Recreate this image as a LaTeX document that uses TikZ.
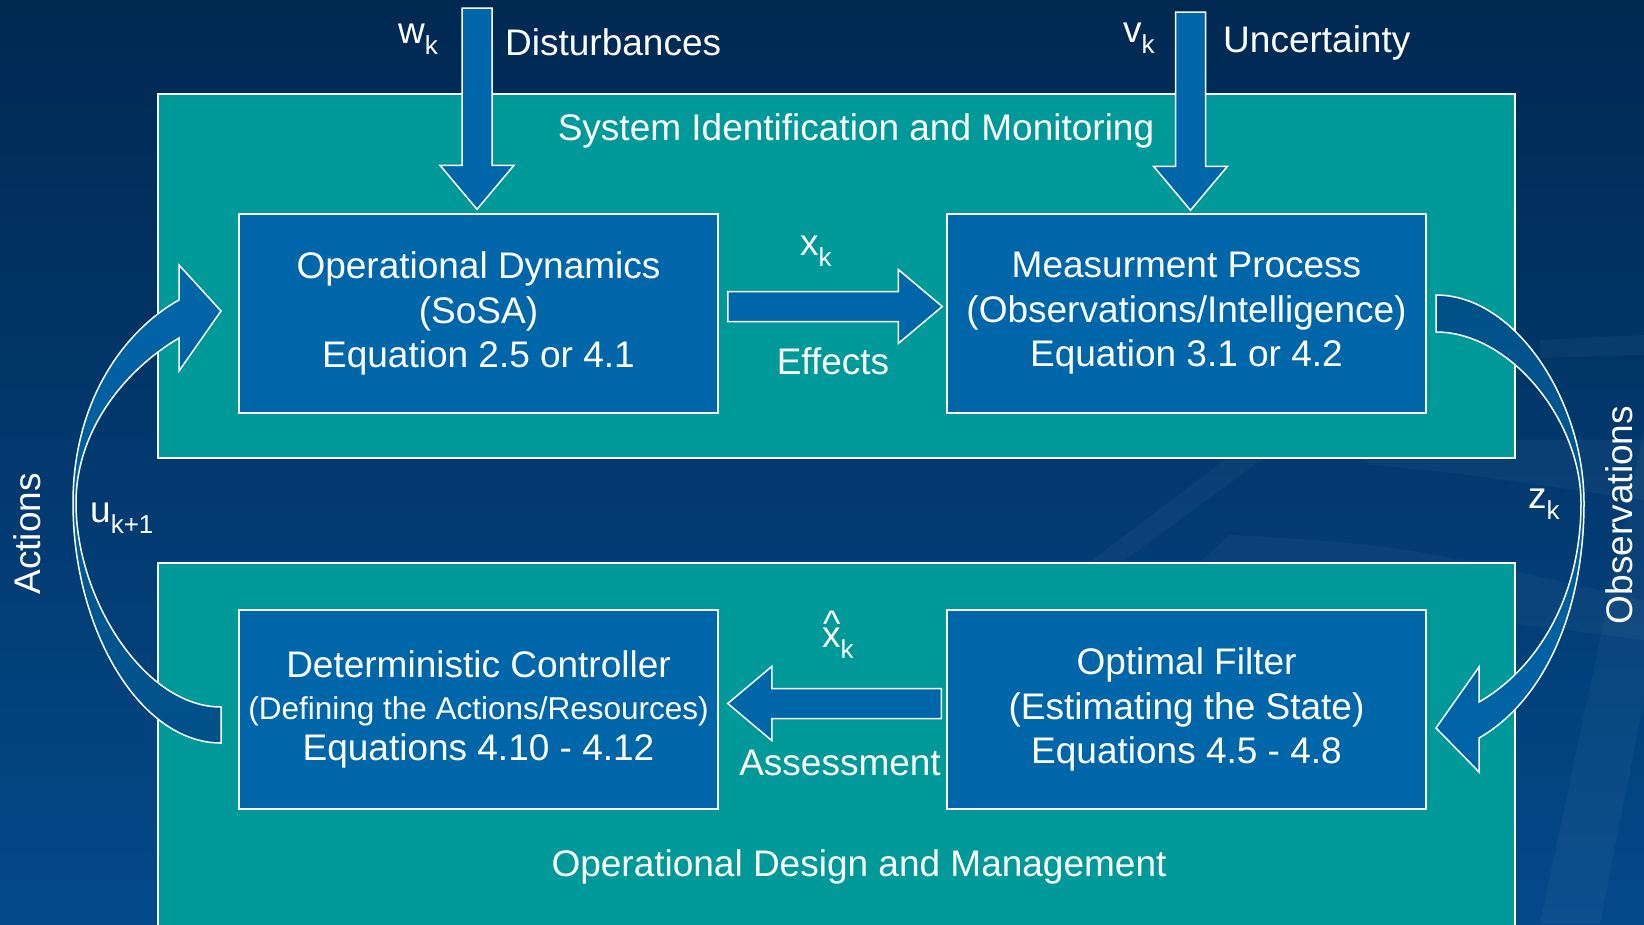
\documentclass[tikz,border=0pt]{standalone}
\usepackage{fontspec}
\setmainfont{Liberation Sans}
\usetikzlibrary{calc,positioning}

\definecolor{bgtop}{RGB}{0,41,82}
\definecolor{bgbot}{RGB}{3,73,138}
\definecolor{panelteal}{RGB}{0,153,153}
\definecolor{boxblue}{RGB}{0,102,170}
\definecolor{tailblue}{RGB}{0,80,135}

\newcommand{\sub}[1]{\raisebox{-11pt}{\fontsize{26}{26}\selectfont #1}}
\newcommand{\xhat}{\rlap{\hspace{1pt}\raisebox{11pt}{\textasciicircum}}x}

\begin{document}
\begin{tikzpicture}[x=1pt,y=-1pt,
    txt/.style={text=white,font=\fontsize{37}{44.5}\selectfont,inner sep=0pt},
    zone/.style={draw=white,line width=1.5pt,fill=panelteal,minimum width=1357pt},
    stage/.style={txt,draw=white,line width=1.5pt,fill=boxblue,align=center,minimum width=479pt,minimum height=199pt},
    fatarrow/.style={draw=white,line width=1.5pt,fill=boxblue,line join=miter,
      to path={let \p1=($(\tikztotarget)!44pt!(\tikztostart)$) in
        ($(\tikztostart)!15pt!90:(\tikztotarget)$) -- ($(\p1)!15pt!90:(\tikztotarget)$)
        -- ($(\p1)!37pt!90:(\tikztotarget)$) -- (\tikztotarget)
        -- ($(\p1)!37pt!-90:(\tikztotarget)$) -- ($(\p1)!15pt!-90:(\tikztotarget)$)
        -- ($(\tikztostart)!15pt!-90:(\tikztotarget)$) -- cycle}},
    bendarrow/.style={draw=white,line width=1.5pt,line join=miter},
    swoosh/.style={fill=white,fill opacity=0.035}]

  % background
  \fill[top color=bgtop,bottom color=bgbot] (0,0) rectangle (1644,924);
  \useasboundingbox (0,0) rectangle (1644,924);
  % faint swooshes
  \fill[swoosh] (1040,600) -- (1290,410) -- (1330,410) -- (1070,600) -- cycle;
  \fill[swoosh] (1180,580) -- (1230,535) .. controls (1400,545) .. (1644,600) -- (1644,640) -- cycle;
  \fill[swoosh] (1340,440) -- (1370,465) .. controls (1450,472) .. (1644,500) -- (1644,440) -- cycle;
  \fill[swoosh] (1540,340) -- (1644,335) -- (1644,355) -- (1540,358) -- cycle;
  \fill[swoosh] (1644,430) -- (1540,924) -- (1600,924) -- (1644,700) -- cycle;

  % the two areas
  \node[zone,minimum height=364pt] (ident) at (836.5,276) {};
  \node[zone,minimum height=380pt] (design) at (836.5,753) {};
  \node[txt,anchor=base] (identtitle) at (856,140) {System Identification and Monitoring};
  \node[txt,anchor=base] (designtitle) at (859,876) {Operational Design and Management};

  % blocks
  \node[stage] (od) at (478.5,313.5) {Operational Dynamics\\(SoSA)\\Equation 2.5 or 4.1};
  \node[stage] (mp) at (1186.5,313.5) {Measurment Process\\(Observations/Intelligence)\\Equation 3.1 or 4.2};
  \node[stage] (dc) at (478.5,709.5) {Deterministic Controller\\[-2.5pt]{\fontsize{31.5}{38}\selectfont(Defining the Actions/Resources)}\\[-4pt]Equations 4.10 - 4.12};
  \node[stage] (of) at (1186.5,709.5) {Optimal Filter\\(Estimating the State)\\Equations 4.5 - 4.8};

  % straight arrows
  \coordinate (wtop) at (477,8);
  \coordinate (wend) at ($(od.north)+(-1.5,-4)$);
  \coordinate (vtop) at (1190.5,12);
  \coordinate (vend) at ($(mp.north)+(4,-3)$);
  \coordinate (xs) at ($(od.east)+(9,-7)$);
  \coordinate (xe) at ($(mp.west)+(-4,-7)$);
  \coordinate (hs) at ($(of.west)+(-5,-6)$);
  \coordinate (he) at ($(dc.east)+(9,-6)$);
  \draw[fatarrow] (wtop) to (wend);
  \draw[fatarrow] (vtop) to (vend);
  \draw[fatarrow] (xs) to (xe);
  \draw[fatarrow] (hs) to (he);

  % curved arrows
  \draw[bendarrow,top color=boxblue,bottom color=tailblue]
    (221,743) .. controls (140,743) and (73,630) .. (73,503)
    .. controls (73,400) and (125,330) .. (179,300)
    -- (179,265) -- (221,311) -- (179,371) -- (179,338)
    .. controls (125,370) and (76,430) .. (76,503)
    .. controls (76,600) and (145,707) .. (221,707) -- cycle;
  \draw[bendarrow,top color=tailblue,bottom color=boxblue]
    (1436,295) .. controls (1515,295) and (1584,400) .. (1584,503)
    .. controls (1584,610) and (1545,700) .. (1479,738)
    -- (1479,772) -- (1436,728) -- (1479,667) -- (1479,702)
    .. controls (1535,670) and (1581,600) .. (1581,503)
    .. controls (1581,420) and (1510,332) .. (1436,332) -- cycle;

  % labels
  \node[txt,anchor=base west] (wlab) at (398,43) {w\sub{k}};
  \node[txt,anchor=base west] (dist) at (505,55) {Disturbances};
  \node[txt,anchor=base west] (vlab) at (1123,42) {v\sub{k}};
  \node[txt,anchor=base west] (unc) at (1223,52) {Uncertainty};
  \node[txt,anchor=base west] (xlab) at (800,255) {x\sub{k}};
  \node[txt,anchor=base] (eff) at (833,374) {Effects};
  \node[txt,anchor=base west] (xhlab) at (822,647) {\xhat\sub{k}};
  \node[txt,anchor=base] (assess) at (840,775) {Assessment};
  \node[txt,anchor=base west] (ulab) at (90,522) {u\sub{k+1}};
  \node[txt,anchor=base west] (zlab) at (1528,508) {z\sub{k}};
  \node[txt,anchor=base,rotate=90] (act) at (40,534) {Actions};
  \node[txt,anchor=base,rotate=90] (obs) at (1632,515) {Observations};
\end{tikzpicture}
\end{document}
